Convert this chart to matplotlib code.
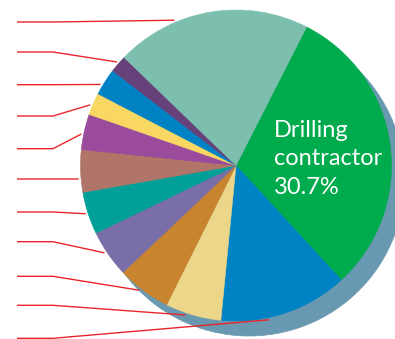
import numpy as np
import matplotlib
matplotlib.use("Agg")
import matplotlib.pyplot as plt

# ------------------------------
# Данные (доли, %), по часовой стрелке от "Drilling contractor"
# ------------------------------
shares = [30.7, 13.4, 5.8, 5.6, 4.9, 4.4, 4.4, 3.7, 2.3, 2.8, 1.8, 20.3]
colors = ['#00ab4e', '#0083c5', '#ebd68a', '#c8842f', '#7a6ea9', '#00a098',
          '#b07568', '#9a4b9c', '#f8d863', '#0083c5', '#66417a', '#7dbfae']
label_text = "Drilling\ncontractor\n30.7%"

# выноски: угол точки на краю круга (град) и строка подписи (пиксели сверху)
leader_angles = [113.0, 139.0, 149.1, 157.4, 168.5, -175.1, -162.2,
                 -146.4, -127.8, -108.7, -77.8]
leader_rows = [22, 52, 84.7, 116, 148.7, 179, 212, 241.7, 276.3, 305.3, 338.3]

# ------------------------------
# Геометрия (в пикселях)
# ------------------------------
W, H = 395, 339
cx, cy = 236, H - 165.5
r = 155.5
shadow = '#6899b0'

fig = plt.figure(figsize=(W / 100, H / 100), dpi=100)
ax = fig.add_axes([0, 0, 1, 1])

# тень
ax.pie(shares, colors=[shadow] * len(shares), center=(cx + 13, cy - 15), radius=r,
       startangle=63.0, counterclock=False,
       wedgeprops=dict(linewidth=0.5, edgecolor=shadow))

# основной круг
wedges, _ = ax.pie(shares, colors=colors, center=(cx, cy), radius=r,
                   startangle=63.0, counterclock=False)
for w, c in zip(wedges, colors):
    w.set_edgecolor(c)
    w.set_linewidth(0.4)

# выноски
for ang, row in zip(leader_angles, leader_rows):
    ex = cx + 1.015 * r * np.cos(np.radians(ang))
    ey = cy + 1.015 * r * np.sin(np.radians(ang))
    y = H - row
    ax.plot([17, 53, ex], [y, y, ey], color='#e8262c', lw=1.0,
            solid_capstyle='butt', zorder=5)

ax.text(274, H - 120, label_text, color='white', fontsize=17,
        family=['Lato', 'DejaVu Sans'], ha='left', va='top', linespacing=1.44)

ax.set_xlim(0, W)
ax.set_ylim(0, H)
ax.set_aspect('equal')
ax.axis('off')

fig.savefig('out.png', dpi=100)
